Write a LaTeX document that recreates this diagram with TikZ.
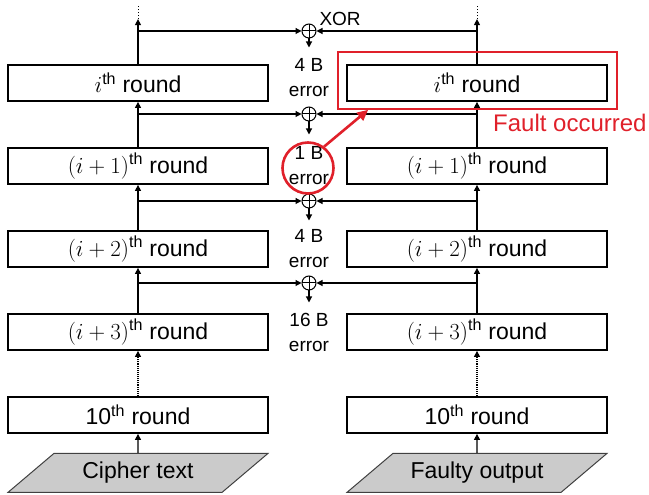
\documentclass[tikz,border=0pt]{standalone}
\usepackage{fix-cm}
\usepackage{fontspec}
\setmainfont{Liberation Sans}
\usepackage{tikz}
\usetikzlibrary{arrows.meta,positioning,fit,calc,shapes.geometric}
\definecolor{FaultRed}{HTML}{E0202A}
\definecolor{InGray}{HTML}{CBCBCB}

\begin{document}
\begin{tikzpicture}[
  x=1pt,y=1pt,
  node distance=45.2pt and 77.2pt,
  rnd/.style={draw,line width=1.8pt,fill=white,minimum width=260pt,minimum height=36pt,inner sep=0pt,font=\fontsize{23}{26}\selectfont},
  io/.style={trapezium,trapezium left angle=25,trapezium right angle=155,trapezium stretches body,draw=black!75,line width=1pt,fill=InGray,minimum width=260pt,minimum height=39pt,inner sep=0pt,font=\fontsize{23}{26}\selectfont},
  xor/.style={circle,draw,line width=1pt,minimum size=14pt,inner sep=0pt,path picture={\draw[line width=1pt] (path picture bounding box.north)--(path picture bounding box.south) (path picture bounding box.west)--(path picture bounding box.east);}},
  err/.style={align=center,inner sep=0pt,font=\fontsize{19}{25}\selectfont},
  arr/.style={-{Triangle[length=6pt,width=6pt]},line width=1.1pt},
  ring/.style={circle,draw=FaultRed,line width=2.6pt,minimum size=51pt,inner sep=0pt},
  hot/.style={-{Triangle[length=11pt,width=10pt]},line width=2.6pt,draw=FaultRed}
]
\useasboundingbox (0,0) rectangle (649,495);
% left column: correct run
\node[rnd] (l1) at (138,412) {$i$\textsuperscript{th} round};
\node[rnd,below=of l1] (l2) {$(i+1)$\textsuperscript{th} round};
\node[rnd,below=of l2] (l3) {$(i+2)$\textsuperscript{th} round};
\node[rnd,below=of l3] (l4) {$(i+3)$\textsuperscript{th} round};
\node[rnd,below=of l4] (l5) {10\textsuperscript{th} round};
\node[io,below=19pt of l5] (lin) {Cipher text};
% right column: faulty run
\node[rnd,right=of l1] (r1) {$i$\textsuperscript{th} round};
\node[rnd,right=of l2] (r2) {$(i+1)$\textsuperscript{th} round};
\node[rnd,right=of l3] (r3) {$(i+2)$\textsuperscript{th} round};
\node[rnd,right=of l4] (r4) {$(i+3)$\textsuperscript{th} round};
\node[rnd,right=of l5] (r5) {10\textsuperscript{th} round};
\node[io,below=19pt of r5] (rin) {Faulty output};
% xor gates
\node[xor] (x1) at (309,464) {};
\node[xor] (x2) at (309,381) {};
\node[xor] (x3) at (309,294) {};
\node[xor] (x4) at (309,212) {};
\node[font=\fontsize{19}{22}\selectfont,anchor=south west,inner sep=0pt] (xl) at ([xshift=5pt]x1.north east) {XOR};
% error sizes
\node[err] (e1) at ([yshift=5pt]l1 -| x1) {4 B\\error};
\node[err] (e2) at (l2 -| x1) {1 B\\error};
\node[err] (e3) at (l3 -| x1) {4 B\\error};
\node[err] (e4) at (l4 -| x1) {16 B\\error};
% data flow
\coordinate (lt) at ([yshift=45pt]l1.north);
\coordinate (ltd) at ([yshift=58pt]l1.north);
\coordinate (rt) at ([yshift=45pt]r1.north);
\coordinate (rtd) at ([yshift=58pt]r1.north);
\draw[arr] (l1) -- (lt);
\draw[dotted,line width=1pt] (lt) -- (ltd);
\draw[arr] (r1) -- (rt);
\draw[dotted,line width=1pt] (rt) -- (rtd);
\draw[arr] (l2) -- (l1);
\draw[arr] (l3) -- (l2);
\draw[arr] (l4) -- (l3);
\draw[arr,densely dotted] (l5) -- (l4);
\draw[arr] (lin) -- (l5);
\draw[arr] (r2) -- (r1);
\draw[arr] (r3) -- (r2);
\draw[arr] (r4) -- (r3);
\draw[arr,densely dotted] (r5) -- (r4);
\draw[arr] (rin) -- (r5);
% taps into the xor gates
\foreach \g in {x1,x2,x3,x4}{
  \draw[arr] (l1.north |- \g) -- (\g);
  \draw[arr] (r1.north |- \g) -- (\g);
}
\coordinate (d1) at ([yshift=-9pt]x1.south);
\coordinate (d2) at ([yshift=-13pt]x2.south);
\coordinate (d3) at ([yshift=-12pt]x3.south);
\coordinate (d4) at ([yshift=-12pt]x4.south);
\draw[arr] (x1) -- (d1);
\draw[arr] (x2) -- (d2);
\draw[arr] (x3) -- (d3);
\draw[arr] (x4) -- (d4);
% fault injection
\node[ring] (ring) at ([shift={(-1pt,-2pt)}]e2) {};
\coordinate (fa) at ([shift={(-8pt,12pt)}]r1.north west);
\coordinate (fb) at ([shift={(9pt,-7pt)}]r1.south east);
\node[fit=(fa)(fb),inner sep=0pt,draw=FaultRed,line width=1.8pt] (flt) {};
\draw[hot] (ring.53) -- ([xshift=31pt]flt.south west);
\node[text=FaultRed,font=\fontsize{24}{26}\selectfont,anchor=north east,inner sep=0pt] (fl) at ([shift={(29pt,-4pt)}]flt.south east) {Fault occurred};
\end{tikzpicture}
\end{document}
